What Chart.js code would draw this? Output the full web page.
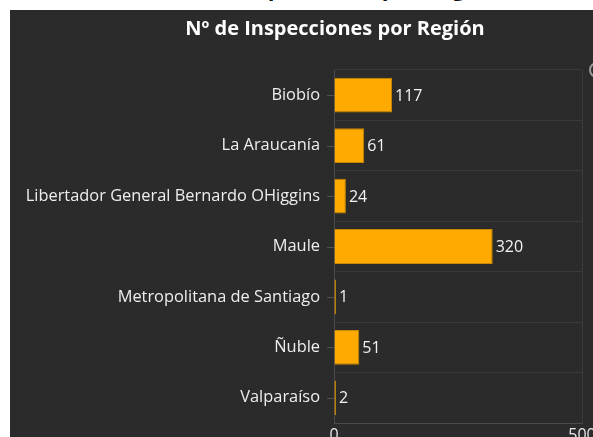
<!DOCTYPE html>
<html lang="es">
<head>
  <meta charset="UTF-8" />
  <title>Nº de Inspecciones por Región</title>
  <script src="https://cdn.jsdelivr.net/npm/chart.js"></script>
  <style>
    html, body { margin: 0; padding: 0; background: #fff; width: 593px; height: 437px; overflow: hidden; }
    #heading {
      position: absolute; left: 10px; width: 650px; top: -24px;
      text-align: center; font: bold 22px/1 "Open Sans", sans-serif; color: #111;
    }
    #panel { position: absolute; left: 10px; top: 10px; width: 650px; height: 460px; background: #2b2b2b; }
    #knob {
      position: absolute; left: 589px; top: 62px; width: 12px; height: 12px;
      border: 2px solid #9a9a9a; border-radius: 50%;
    }
  </style>
</head>
<body>
  <div id="heading">Nº de Inspecciones por Región</div>
  <div id="panel">
    <canvas id="chart" width="650" height="443"></canvas>
  </div>
  <div id="knob"></div>

  <script>
    // data
    const regions = [
      "Biobío",
      "La Araucanía",
      "Libertador General Bernardo OHiggins",
      "Maule",
      "Metropolitana de Santiago",
      "Ñuble",
      "Valparaíso"
    ];
    const inspections = [117, 61, 24, 320, 1, 51, 2];
    const xTicks = [0, 500];

    const FONT = "'Open Sans', sans-serif";
    const RIGHT_PAD = 78;

    // value text at the end of each bar
    const valueLabels = {
      id: "valueLabels",
      afterDatasetsDraw(chart) {
        const ctx = chart.ctx;
        const meta = chart.getDatasetMeta(0);
        ctx.save();
        ctx.fillStyle = "#f2f2f2";
        ctx.font = "16px " + FONT;
        ctx.textAlign = "left";
        ctx.textBaseline = "middle";
        meta.data.forEach((bar, i) => {
          ctx.fillText(String(inspections[i]), bar.x + 3, bar.y + 1);
        });
        ctx.restore();
      }
    };

    // short tick marks at the category centres (grid lines stay between them)
    const centreTicks = {
      id: "centreTicks",
      afterDraw(chart) {
        const ctx = chart.ctx;
        const y = chart.scales.y;
        ctx.save();
        ctx.strokeStyle = "#505050";
        ctx.lineWidth = 1;
        regions.forEach((r, i) => {
          const py = Math.round(y.getPixelForValue(i)) + 0.5;
          ctx.beginPath();
          ctx.moveTo(y.right - 7, py);
          ctx.lineTo(y.right, py);
          ctx.stroke();
        });
        ctx.restore();
      }
    };

    // title centred on the whole panel, not the padded layout box
    const panelTitle = {
      id: "panelTitle",
      afterDraw(chart) {
        const ctx = chart.ctx;
        ctx.save();
        ctx.fillStyle = "#ffffff";
        ctx.font = "bold 20px " + FONT;
        ctx.textAlign = "center";
        ctx.textBaseline = "alphabetic";
        ctx.fillText("Nº de Inspecciones por Región", chart.width / 2, 25);
        ctx.restore();
      }
    };

    new Chart(document.getElementById("chart"), {
      type: "bar",
      data: {
        labels: regions,
        datasets: [{
          label: "Nº de Inspecciones",
          data: inspections,
          backgroundColor: "#ffaa00",
          borderColor: "#c88700",
          borderWidth: 1,
          minBarLength: 2,
          categoryPercentage: 1,
          barPercentage: 0.69
        }]
      },
      options: {
        indexAxis: "y",
        responsive: false,
        animation: false,
        layout: { padding: { left: 0, right: RIGHT_PAD, top: 60, bottom: 0 } },
        plugins: {
          legend: { display: false },
          tooltip: { enabled: false },
          title: { display: false }
        },
        scales: {
          x: {
            min: xTicks[0],
            max: xTicks[xTicks.length - 1],
            afterBuildTicks: (s) => { s.ticks = xTicks.map(v => ({ value: v })); },
            afterFit: (s) => { s.height = 30; },
            grid: { color: "#3a3a3a", drawTicks: false },
            border: { color: "#4a4a4a" },
            ticks: { color: "#e6e6e6", font: { family: FONT, size: 16 }, padding: 3 }
          },
          y: {
            afterFit: (s) => { s.width = 324; },
            grid: { color: "#3a3a3a", drawTicks: false, offset: true },
            border: { color: "#4a4a4a" },
            ticks: { color: "#eeeeee", font: { family: FONT, size: 16.4 }, padding: 14 }
          }
        }
      },
      plugins: [valueLabels, centreTicks, panelTitle]
    });
  </script>
</body>
</html>
